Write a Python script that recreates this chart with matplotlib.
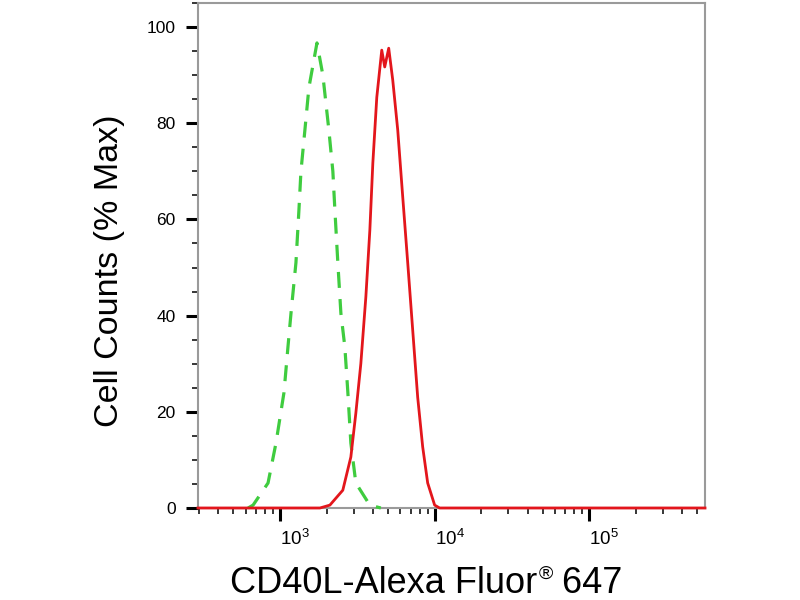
import matplotlib
matplotlib.use("Agg")
import matplotlib.pyplot as plt
import matplotlib.ticker as mticker
import numpy as np

plt.rcParams['font.family'] = ['Liberation Sans', 'DejaVu Sans']
plt.rcParams['mathtext.fontset'] = 'custom'
plt.rcParams['mathtext.rm'] = 'Liberation Sans'
plt.rcParams['mathtext.it'] = 'Liberation Sans'

# isotype control (green, dashed) - fluorescence vs % max
ctrl_x = [622, 670, 837, 942, 1061, 1126, 1178, 1268, 1326, 1366, 1449, 1538, 1734,
          1893, 2070, 2197, 2264, 2366, 2476, 2626, 2747, 2872, 3093, 3808, 4487]
ctrl_y = [0, 0.6, 5.2, 13.5, 24, 33.5, 40.5, 51, 62, 70, 78.6, 87.4, 96.7,
          90, 78.6, 70, 62, 51, 40.5, 33.5, 24, 13.5, 5.2, 0.6, 0]

# CD40L stained sample (red, solid)
cd40l_x = [295, 1812, 2102, 2548, 2872, 3093, 3332, 3591, 3811, 3984, 4226, 4550, 4756,
           5047, 5358, 5772, 6217, 6697, 7213, 7770, 8370, 9016, 10000, 10770, 5.6e5]
cd40l_y = [0, 0, 0.6, 3.7, 10.6, 19.7, 30, 43.9, 57.8, 71.7, 85.4, 95.2, 91.7,
           95.6, 89, 78.6, 64.7, 51, 37, 23, 12.7, 5.2, 0.6, 0, 0]

x_major = [1e3, 1e4, 1e5]
y_major = [0, 20, 40, 60, 80, 100]

fig = plt.figure(figsize=(8, 6), dpi=100)
ax = fig.add_axes([198 / 800, 1 - 508 / 600, 507 / 800, 505 / 600])

ax.plot(ctrl_x, ctrl_y, color='#3fcc3f', lw=2.3, dashes=(5, 3.5), clip_on=False, zorder=3)
ax.plot(cd40l_x, cd40l_y, color='#e3161c', lw=2.0, clip_on=False, zorder=4)

ax.set_xscale('log')
ax.set_xlim(295, 5.6e5)
ax.set_ylim(0, 105)

ax.xaxis.set_major_locator(mticker.FixedLocator(x_major))
ax.xaxis.set_major_formatter(mticker.LogFormatterSciNotation())
ax.xaxis.set_minor_locator(mticker.LogLocator(base=10, subs=np.arange(2, 10), numticks=20))
ax.xaxis.set_minor_formatter(mticker.NullFormatter())
ax.yaxis.set_major_locator(mticker.FixedLocator(y_major))
ax.yaxis.set_minor_locator(mticker.MultipleLocator(5))

for side in ['left', 'right', 'top', 'bottom']:
    ax.spines[side].set_color('#9a9a9a')
    ax.spines[side].set_linewidth(1.5)

ax.tick_params(axis='both', which='major', direction='out', length=9, width=2.2,
               color='black', labelsize=12.5)
ax.tick_params(axis='x', which='major', labelsize=13.5)
ax.tick_params(axis='both', which='minor', direction='out', length=4.5, width=1.1,
               color='black')
ax.tick_params(axis='x', which='major', pad=6)
ax.tick_params(axis='y', which='major', pad=7)
for lab in ax.get_xticklabels():
    lab.set_ha('left')

fig.text(118 / 800, 1 - 271 / 600, 'Cell Counts (% Max)', rotation=90,
         rotation_mode='anchor', ha='center', va='baseline', fontsize=24.5)

# x label built in pieces so the ® can be small and raised
renderer = fig.canvas.get_renderer()
base_y = 7 / 600
t1 = fig.text(0, base_y, 'CD40L-Alexa Fluor', va='baseline', fontsize=26)
t2 = fig.text(0, base_y + 14 / 600, '®', va='baseline', fontsize=14)
t3 = fig.text(0, base_y, ' 647', va='baseline', fontsize=26)
w1 = t1.get_window_extent(renderer).width
w2 = t2.get_window_extent(renderer).width
w3 = t3.get_window_extent(renderer).width
x0 = 426 - (w1 + w2 + w3) / 2
t1.set_x(x0 / 800)
t2.set_x((x0 + w1 + 1) / 800)
t3.set_x((x0 + w1 + w2) / 800)

fig.savefig('out.png', dpi=100)
